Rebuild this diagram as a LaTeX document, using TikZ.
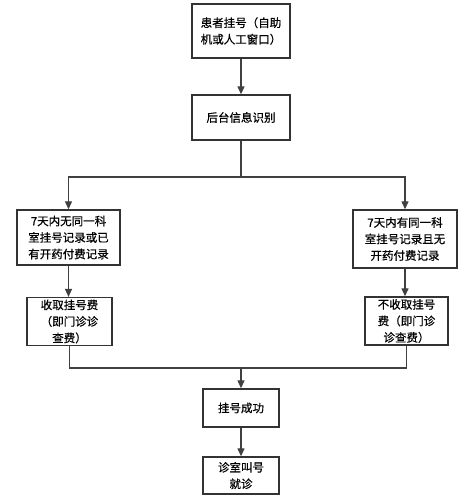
\documentclass[tikz,border=0pt]{standalone}
\usepackage{fontspec}
\setmainfont{Noto Sans CJK SC}[FakeBold=0.6]
\usetikzlibrary{arrows.meta}
\tikzset{
  box/.style={draw=black!80, line width=1.4pt, fill=white, align=center, inner sep=2pt,
    font=\fontsize{11.5}{16.5}\selectfont},
  conn/.style={draw=black!75, line width=1.3pt},
  arr/.style={conn, -{Triangle[length=8pt,width=7pt]}}
}
\begin{document}
\begin{tikzpicture}[x=1pt,y=-1pt]
\useasboundingbox[fill=white] (0,0) rectangle (468,503);
\node[box, minimum width=98pt, minimum height=54pt] (b1) at (241,31) {患者挂号（自助\\机或人工窗口）};
\node[box, minimum width=98pt, minimum height=45pt] (b2) at (241,117.5) {后台信息识别};
\node[box, minimum width=103pt, minimum height=55pt] (b3) at (68.5,237.5) {7天内无同一科\\室挂号记录或已\\有开药付费记录};
\node[box, minimum width=85pt, minimum height=47pt] (b4) at (69.5,321.5) {收取挂号费\\（即门诊诊\\查费）};
\node[box, minimum width=104pt, minimum height=58pt] (b5) at (405,239) {7天内有同一科\\室挂号记录且无\\开药付费记录};
\node[box, minimum width=83pt, minimum height=48pt] (b6) at (406.5,321) {不收取挂号\\费（即门诊\\诊查费）};
\node[box, minimum width=76pt, minimum height=38pt] (b7) at (241,408) {挂号成功};
\node[box, minimum width=76pt, minimum height=37pt] (b8) at (241,475.5) {诊室叫号\\就诊};
\coordinate (j1) at (241,177);
\coordinate (j2) at (241,368);
\draw[arr] (b1) -- (b2);
\draw[conn] (b2) -- (j1);
\draw[arr] (j1) -| (b3.north);
\draw[arr] (j1) -| (b5.north);
\draw[arr] (b3) -- (b3|-b4.north);
\draw[arr] (b5) -- (b5|-b6.north);
\draw[conn] (b4.south) |- (j2);
\draw[conn] (b6.south) |- (j2);
\draw[arr] (j2) -- (b7);
\draw[arr] (b7) -- (b8);
\end{tikzpicture}
\end{document}
